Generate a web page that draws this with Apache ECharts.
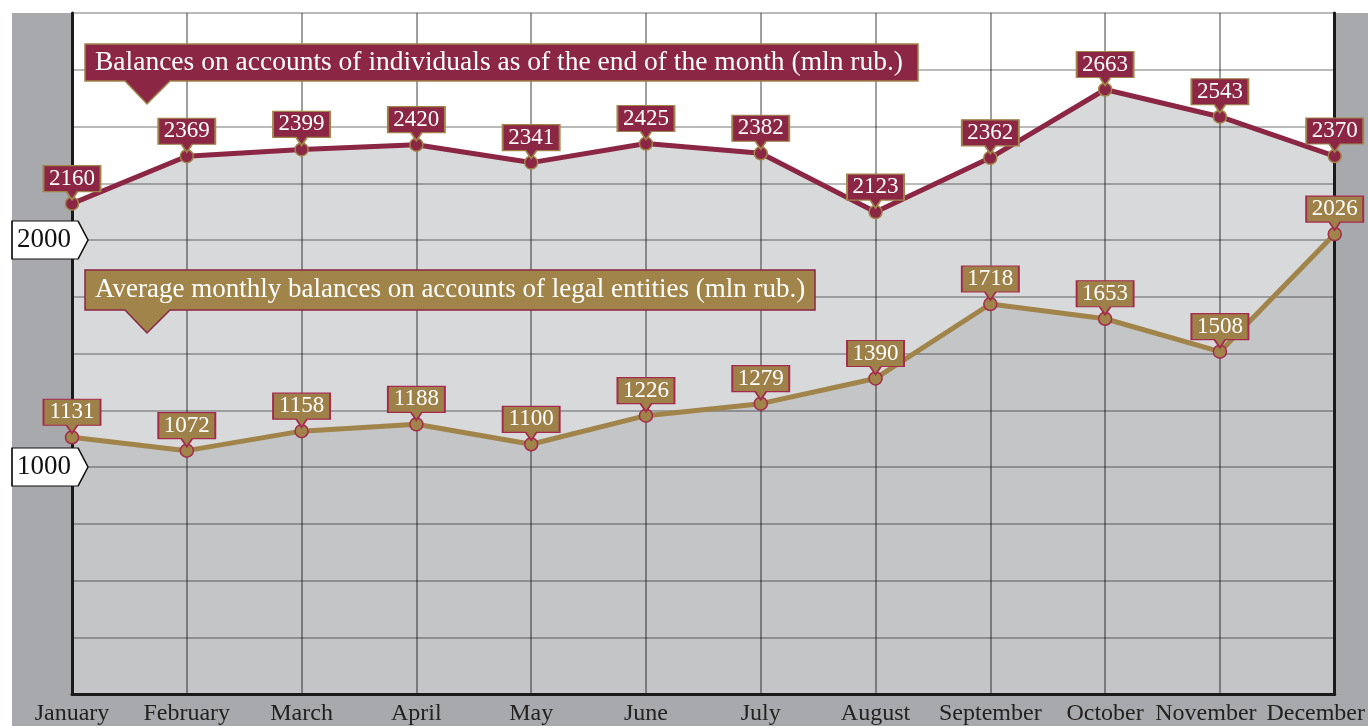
<!DOCTYPE html>
<html>
<head>
<meta charset="utf-8">
<script src="https://cdn.jsdelivr.net/npm/echarts@6/dist/echarts.min.js"></script>
<style>
  html, body { margin: 0; padding: 0; background: #fff; }
  #main { width: 1368px; height: 726px; }
</style>
</head>
<body>
<div id="main"></div>
<script>
var months = ['January', 'February', 'March', 'April', 'May', 'June', 'July',
  'August', 'September', 'October', 'November', 'December'];
var individuals = [2160, 2369, 2399, 2420, 2341, 2425, 2382, 2123, 2362, 2663, 2543, 2370];
var legalEntities = [1131, 1072, 1158, 1188, 1100, 1226, 1279, 1390, 1718, 1653, 1508, 2026];
var yTickLabels = [1000, 2000];
var individualsName = 'Balances on accounts of individuals as of the end of the month (mln rub.)';
var legalName = 'Average monthly balances on accounts of legal entities (mln rub.)';

var MAROON = '#8b2644';
var GOLD = '#a0844a';
var SERIF = '"Liberation Serif", "DejaVu Serif", serif';

var myChart = echarts.init(document.getElementById('main'));

// value tags: box with a small pointer under it
function tags(values, fill, border) {
  var items = values.map(function (v, i) {
    return { coord: [months[i], v], value: v };
  });
  return {
    symbol: 'path://M0,0L57,0L57,26L34,26L28.5,34L23,26L0,26Z',
    symbolSize: [57, 34],
    symbolOffset: [0, -21],
    itemStyle: { color: fill, borderColor: border, borderWidth: 1.5 },
    label: { show: true, color: '#fff', fontFamily: SERIF, fontSize: 23, offset: [0, -4], formatter: '{c}' },
    data: items
  };
}

var redTags = tags(individuals, MAROON, GOLD);
// y tick labels in white arrow boxes
yTickLabels.forEach(function (t) {
  redTags.data.push({
    coord: [months[0], t],
    value: t,
    symbol: 'path://M0,0L66,0L76,19L66,38L0,38Z',
    symbolSize: [76, 38],
    symbolOffset: [-22, 0],
    itemStyle: { color: '#fff', borderColor: '#111', borderWidth: 1.2 },
    label: { color: '#111', fontSize: 27, offset: [-6, 0] }
  });
});

function callout(top, bottom, right, fill, border, text, size) {
  return [
    {
      type: 'polygon', z: 10,
      shape: { points: [[85, top], [right, top], [right, bottom], [170, bottom],
        [147, bottom + 23], [125, bottom], [85, bottom]] },
      style: { fill: fill, stroke: border, lineWidth: 1.5 }
    },
    {
      type: 'text', z: 11, x: 95, y: (top + bottom) / 2,
      style: { text: text, fill: '#fff', font: size + 'px ' + SERIF, verticalAlign: 'middle' }
    }
  ];
}

var option = {
  animation: false,
  backgroundColor: '#fff',
  graphic: [
    { type: 'rect', z: -10, shape: { x: 12, y: 13, width: 1356, height: 713 }, style: { fill: '#a8a9ac' } }
  ].concat(callout(44, 81, 918, MAROON, GOLD, individualsName, 27.5))
   .concat(callout(270, 310, 815, GOLD, MAROON, legalName, 27)),
  grid: {
    left: 72, right: 33, top: 13, bottom: 32,
    show: true, backgroundColor: '#fff', borderWidth: 0
  },
  xAxis: {
    type: 'category',
    data: months,
    boundaryGap: false,
    z: 2,
    axisLine: { lineStyle: { color: '#1a1a1a', width: 3 } },
    axisTick: { show: false },
    splitLine: { show: true, interval: 0, lineStyle: { color: 'rgba(0,0,0,0.5)', width: 1.5 } },
    axisLabel: {
      interval: 0, margin: 8, color: '#222', fontFamily: SERIF, fontSize: 24,
      formatter: function (v) {
        if (v === 'November') return '{n|' + v + '}';
        if (v === 'December') return '{d|' + v + '}';
        return v;
      },
      rich: {
        n: { color: '#222', fontFamily: SERIF, fontSize: 24, padding: [0, 28, 0, 0] },
        d: { color: '#222', fontFamily: SERIF, fontSize: 24, padding: [0, 38, 0, 0] }
      }
    }
  },
  yAxis: [
    {
      type: 'value', min: 0, max: 3000, interval: 250, z: 2,
      axisLine: { show: true, lineStyle: { color: '#1a1a1a', width: 3 } },
      axisTick: { show: false },
      axisLabel: { show: false },
      splitLine: { lineStyle: { color: 'rgba(0,0,0,0.36)', width: 1.5 } }
    },
    {
      type: 'value', min: 0, max: 3000, position: 'right', z: 2,
      axisLine: { show: true, lineStyle: { color: '#1a1a1a', width: 3 } },
      axisTick: { show: false },
      axisLabel: { show: false },
      splitLine: { show: false }
    }
  ],
  series: [
    {
      name: 'individuals area', type: 'line', data: individuals, z: 1,
      showSymbol: false, lineStyle: { width: 0 }, silent: true,
      areaStyle: { color: '#d8d9db', opacity: 1 }
    },
    {
      name: 'legal area', type: 'line', data: legalEntities, z: 1,
      showSymbol: false, lineStyle: { width: 0 }, silent: true,
      areaStyle: { color: '#c4c5c7', opacity: 1 }
    },
    {
      name: individualsName, type: 'line', data: individuals, z: 3,
      symbol: 'circle', symbolSize: 13,
      lineStyle: { color: MAROON, width: 5 },
      itemStyle: { color: MAROON, borderColor: GOLD, borderWidth: 1.5 },
      markPoint: redTags
    },
    {
      name: legalName, type: 'line', data: legalEntities, z: 3,
      symbol: 'circle', symbolSize: 13,
      lineStyle: { color: GOLD, width: 5 },
      itemStyle: { color: GOLD, borderColor: '#a52a4d', borderWidth: 1.5 },
      markPoint: tags(legalEntities, '#9e8049', '#a52a4d')
    }
  ]
};

myChart.setOption(option);
</script>
</body>
</html>
